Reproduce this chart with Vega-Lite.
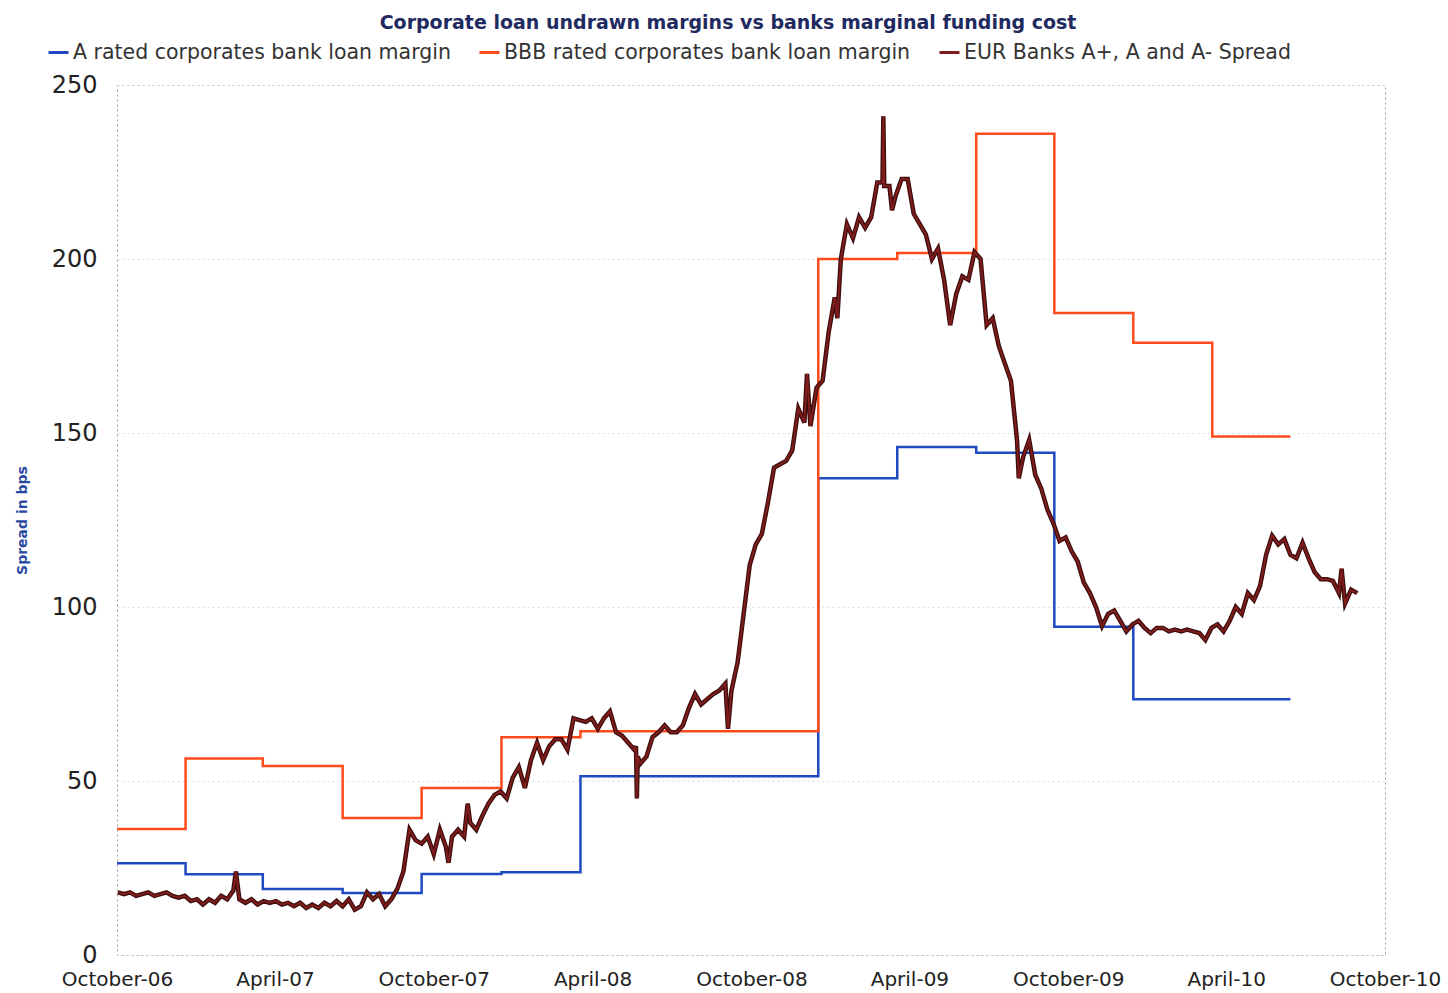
{
  "$schema": "https://vega.github.io/schema/vega-lite/v6.json",
  "width": 1268,
  "height": 870,
  "autosize": {"type": "none"},
  "padding": {"left": 117, "top": 85, "right": 63, "bottom": 38},
  "background": "white",
  "config": {
    "view": {"stroke": "#9a9a9a", "strokeDash": [2, 3], "strokeWidth": 1},
    "font": "DejaVu Sans"
  },
  "title": {
    "text": "Corporate loan undrawn margins vs banks marginal funding cost",
    "fontSize": 19,
    "fontWeight": "bold",
    "color": "#1f2a60",
    "anchor": "middle",
    "dx": -23,
    "offset": 8
  },
  "datasets": {
    "steps": [
      {"date": "2006-10-01", "series": "A rated corporates bank loan margin", "value": 26.4},
      {"date": "2006-12-19", "series": "A rated corporates bank loan margin", "value": 23.2},
      {"date": "2007-03-18", "series": "A rated corporates bank loan margin", "value": 19},
      {"date": "2007-06-18", "series": "A rated corporates bank loan margin", "value": 17.8},
      {"date": "2007-09-17", "series": "A rated corporates bank loan margin", "value": 23.3},
      {"date": "2007-12-18", "series": "A rated corporates bank loan margin", "value": 23.8},
      {"date": "2008-03-18", "series": "A rated corporates bank loan margin", "value": 51.4},
      {"date": "2008-12-17", "series": "A rated corporates bank loan margin", "value": 137},
      {"date": "2009-03-18", "series": "A rated corporates bank loan margin", "value": 146},
      {"date": "2009-06-17", "series": "A rated corporates bank loan margin", "value": 144.3},
      {"date": "2009-09-15", "series": "A rated corporates bank loan margin", "value": 94.3},
      {"date": "2009-12-15", "series": "A rated corporates bank loan margin", "value": 73.5},
      {"date": "2010-06-14", "series": "A rated corporates bank loan margin", "value": 73.5},
      {"date": "2006-10-01", "series": "BBB rated corporates bank loan margin", "value": 36.2},
      {"date": "2006-12-19", "series": "BBB rated corporates bank loan margin", "value": 56.5},
      {"date": "2007-03-18", "series": "BBB rated corporates bank loan margin", "value": 54.3},
      {"date": "2007-06-18", "series": "BBB rated corporates bank loan margin", "value": 39.4},
      {"date": "2007-09-17", "series": "BBB rated corporates bank loan margin", "value": 48},
      {"date": "2007-12-18", "series": "BBB rated corporates bank loan margin", "value": 62.6},
      {"date": "2008-03-18", "series": "BBB rated corporates bank loan margin", "value": 64.3},
      {"date": "2008-12-17", "series": "BBB rated corporates bank loan margin", "value": 200},
      {"date": "2009-03-18", "series": "BBB rated corporates bank loan margin", "value": 201.7},
      {"date": "2009-06-17", "series": "BBB rated corporates bank loan margin", "value": 236},
      {"date": "2009-09-15", "series": "BBB rated corporates bank loan margin", "value": 184.5},
      {"date": "2009-12-15", "series": "BBB rated corporates bank loan margin", "value": 175.9},
      {"date": "2010-03-16", "series": "BBB rated corporates bank loan margin", "value": 149},
      {"date": "2010-06-14", "series": "BBB rated corporates bank loan margin", "value": 149}
    ],
    "spread": [
      {"date": "2006-10-02", "value": 18}, {"date": "2006-10-09", "value": 17.5}, {"date": "2006-10-16", "value": 18},
      {"date": "2006-10-23", "value": 17}, {"date": "2006-10-30", "value": 17.5}, {"date": "2006-11-06", "value": 18},
      {"date": "2006-11-13", "value": 17}, {"date": "2006-11-20", "value": 17.5}, {"date": "2006-11-27", "value": 18},
      {"date": "2006-12-04", "value": 17}, {"date": "2006-12-11", "value": 16.5}, {"date": "2006-12-18", "value": 17},
      {"date": "2006-12-25", "value": 15.5}, {"date": "2007-01-01", "value": 16}, {"date": "2007-01-08", "value": 14.5},
      {"date": "2007-01-15", "value": 16}, {"date": "2007-01-22", "value": 15}, {"date": "2007-01-29", "value": 17},
      {"date": "2007-02-05", "value": 16}, {"date": "2007-02-12", "value": 18.5}, {"date": "2007-02-15", "value": 24},
      {"date": "2007-02-19", "value": 16}, {"date": "2007-02-26", "value": 15}, {"date": "2007-03-05", "value": 16},
      {"date": "2007-03-12", "value": 14.5}, {"date": "2007-03-19", "value": 15.5}, {"date": "2007-03-26", "value": 15},
      {"date": "2007-04-02", "value": 15.5}, {"date": "2007-04-09", "value": 14.5}, {"date": "2007-04-16", "value": 15},
      {"date": "2007-04-23", "value": 14}, {"date": "2007-04-30", "value": 15}, {"date": "2007-05-07", "value": 13.5},
      {"date": "2007-05-14", "value": 14.5}, {"date": "2007-05-21", "value": 13.5}, {"date": "2007-05-28", "value": 15},
      {"date": "2007-06-04", "value": 14}, {"date": "2007-06-11", "value": 15.5}, {"date": "2007-06-18", "value": 14},
      {"date": "2007-06-25", "value": 16}, {"date": "2007-07-02", "value": 13}, {"date": "2007-07-09", "value": 14},
      {"date": "2007-07-16", "value": 18}, {"date": "2007-07-23", "value": 16}, {"date": "2007-07-30", "value": 17.5},
      {"date": "2007-08-06", "value": 14}, {"date": "2007-08-13", "value": 16}, {"date": "2007-08-20", "value": 19},
      {"date": "2007-08-27", "value": 24}, {"date": "2007-09-03", "value": 36}, {"date": "2007-09-10", "value": 33},
      {"date": "2007-09-17", "value": 32}, {"date": "2007-09-24", "value": 34}, {"date": "2007-10-01", "value": 29},
      {"date": "2007-10-08", "value": 36}, {"date": "2007-10-15", "value": 31}, {"date": "2007-10-18", "value": 26.5},
      {"date": "2007-10-22", "value": 34}, {"date": "2007-10-29", "value": 36}, {"date": "2007-11-05", "value": 34},
      {"date": "2007-11-09", "value": 43.5}, {"date": "2007-11-12", "value": 38}, {"date": "2007-11-19", "value": 36},
      {"date": "2007-11-26", "value": 40}, {"date": "2007-12-03", "value": 43.5}, {"date": "2007-12-10", "value": 46},
      {"date": "2007-12-17", "value": 47}, {"date": "2007-12-24", "value": 45}, {"date": "2007-12-31", "value": 51},
      {"date": "2008-01-07", "value": 54}, {"date": "2008-01-14", "value": 48}, {"date": "2008-01-21", "value": 56},
      {"date": "2008-01-28", "value": 61}, {"date": "2008-02-04", "value": 56}, {"date": "2008-02-11", "value": 60},
      {"date": "2008-02-18", "value": 62}, {"date": "2008-02-25", "value": 62}, {"date": "2008-03-03", "value": 59},
      {"date": "2008-03-10", "value": 68}, {"date": "2008-03-17", "value": 67.5}, {"date": "2008-03-24", "value": 67},
      {"date": "2008-03-31", "value": 68}, {"date": "2008-04-07", "value": 65}, {"date": "2008-04-14", "value": 68},
      {"date": "2008-04-21", "value": 70}, {"date": "2008-04-28", "value": 64}, {"date": "2008-05-05", "value": 63},
      {"date": "2008-05-12", "value": 61}, {"date": "2008-05-19", "value": 59}, {"date": "2008-05-21", "value": 60},
      {"date": "2008-05-22", "value": 45}, {"date": "2008-05-23", "value": 57}, {"date": "2008-05-26", "value": 55},
      {"date": "2008-06-02", "value": 57}, {"date": "2008-06-09", "value": 62.6}, {"date": "2008-06-16", "value": 64},
      {"date": "2008-06-23", "value": 66}, {"date": "2008-06-30", "value": 64}, {"date": "2008-07-07", "value": 64},
      {"date": "2008-07-14", "value": 66}, {"date": "2008-07-21", "value": 71}, {"date": "2008-07-28", "value": 75},
      {"date": "2008-08-04", "value": 72}, {"date": "2008-08-11", "value": 73.5}, {"date": "2008-08-18", "value": 75},
      {"date": "2008-08-25", "value": 76}, {"date": "2008-09-01", "value": 78}, {"date": "2008-09-04", "value": 65},
      {"date": "2008-09-08", "value": 76}, {"date": "2008-09-15", "value": 84}, {"date": "2008-09-22", "value": 98},
      {"date": "2008-09-29", "value": 112}, {"date": "2008-10-06", "value": 118}, {"date": "2008-10-13", "value": 121},
      {"date": "2008-10-20", "value": 130}, {"date": "2008-10-27", "value": 140}, {"date": "2008-11-03", "value": 141},
      {"date": "2008-11-10", "value": 142}, {"date": "2008-11-17", "value": 145}, {"date": "2008-11-24", "value": 157},
      {"date": "2008-12-01", "value": 153}, {"date": "2008-12-04", "value": 167}, {"date": "2008-12-08", "value": 152},
      {"date": "2008-12-15", "value": 163}, {"date": "2008-12-22", "value": 165}, {"date": "2008-12-29", "value": 179},
      {"date": "2009-01-05", "value": 189}, {"date": "2009-01-08", "value": 183}, {"date": "2009-01-12", "value": 200},
      {"date": "2009-01-19", "value": 210}, {"date": "2009-01-26", "value": 206}, {"date": "2009-02-02", "value": 212},
      {"date": "2009-02-09", "value": 209}, {"date": "2009-02-16", "value": 212}, {"date": "2009-02-23", "value": 222},
      {"date": "2009-03-01", "value": 222}, {"date": "2009-03-02", "value": 241}, {"date": "2009-03-03", "value": 221},
      {"date": "2009-03-09", "value": 221}, {"date": "2009-03-12", "value": 214}, {"date": "2009-03-16", "value": 218},
      {"date": "2009-03-23", "value": 223}, {"date": "2009-03-30", "value": 223}, {"date": "2009-04-06", "value": 213},
      {"date": "2009-04-13", "value": 210}, {"date": "2009-04-20", "value": 207}, {"date": "2009-04-27", "value": 200},
      {"date": "2009-05-04", "value": 203}, {"date": "2009-05-11", "value": 194}, {"date": "2009-05-18", "value": 181},
      {"date": "2009-05-25", "value": 190}, {"date": "2009-06-01", "value": 195}, {"date": "2009-06-08", "value": 194},
      {"date": "2009-06-15", "value": 202}, {"date": "2009-06-22", "value": 200}, {"date": "2009-06-29", "value": 181},
      {"date": "2009-07-06", "value": 183}, {"date": "2009-07-13", "value": 175}, {"date": "2009-07-20", "value": 170},
      {"date": "2009-07-27", "value": 165}, {"date": "2009-08-03", "value": 148}, {"date": "2009-08-05", "value": 137},
      {"date": "2009-08-10", "value": 143}, {"date": "2009-08-17", "value": 148}, {"date": "2009-08-24", "value": 138},
      {"date": "2009-08-31", "value": 134}, {"date": "2009-09-07", "value": 128}, {"date": "2009-09-14", "value": 124},
      {"date": "2009-09-21", "value": 119}, {"date": "2009-09-28", "value": 120}, {"date": "2009-10-05", "value": 116},
      {"date": "2009-10-12", "value": 113}, {"date": "2009-10-19", "value": 107}, {"date": "2009-10-26", "value": 104},
      {"date": "2009-11-02", "value": 100}, {"date": "2009-11-09", "value": 94.5}, {"date": "2009-11-16", "value": 98},
      {"date": "2009-11-23", "value": 99}, {"date": "2009-11-30", "value": 96}, {"date": "2009-12-07", "value": 93},
      {"date": "2009-12-14", "value": 95}, {"date": "2009-12-21", "value": 96}, {"date": "2009-12-28", "value": 94},
      {"date": "2010-01-04", "value": 92.5}, {"date": "2010-01-11", "value": 94}, {"date": "2010-01-18", "value": 94},
      {"date": "2010-01-25", "value": 93}, {"date": "2010-02-01", "value": 93.5}, {"date": "2010-02-08", "value": 93},
      {"date": "2010-02-15", "value": 93.5}, {"date": "2010-02-22", "value": 93}, {"date": "2010-03-01", "value": 92.5},
      {"date": "2010-03-08", "value": 90.5}, {"date": "2010-03-15", "value": 94}, {"date": "2010-03-22", "value": 95},
      {"date": "2010-03-29", "value": 93}, {"date": "2010-04-05", "value": 96}, {"date": "2010-04-12", "value": 100},
      {"date": "2010-04-19", "value": 98}, {"date": "2010-04-26", "value": 104}, {"date": "2010-05-03", "value": 102},
      {"date": "2010-05-10", "value": 106}, {"date": "2010-05-17", "value": 115}, {"date": "2010-05-24", "value": 120.5},
      {"date": "2010-05-31", "value": 118}, {"date": "2010-06-07", "value": 119.5}, {"date": "2010-06-14", "value": 115},
      {"date": "2010-06-21", "value": 114}, {"date": "2010-06-28", "value": 118.5}, {"date": "2010-07-05", "value": 114},
      {"date": "2010-07-12", "value": 110}, {"date": "2010-07-19", "value": 108}, {"date": "2010-07-26", "value": 108},
      {"date": "2010-08-02", "value": 107.5}, {"date": "2010-08-09", "value": 104}, {"date": "2010-08-12", "value": 111},
      {"date": "2010-08-16", "value": 101}, {"date": "2010-08-23", "value": 105}, {"date": "2010-08-30", "value": 104}
    ]
  },
  "layer": [
    {
      "data": {"name": "steps"},
      "mark": {"type": "line", "interpolate": "step-after", "strokeWidth": 2.5},
      "encoding": {
        "x": {
          "field": "date", "type": "temporal",
          "scale": {"type": "utc", "domain": [{"year": 2006, "month": 10, "date": 1, "utc": true}, {"year": 2010, "month": 10, "date": 1, "utc": true}]},
          "axis": {
            "title": null,
            "values": [
              {"year": 2006, "month": 10, "date": 1, "utc": true},
              {"year": 2007, "month": 4, "date": 1, "utc": true},
              {"year": 2007, "month": 10, "date": 1, "utc": true},
              {"year": 2008, "month": 4, "date": 1, "utc": true},
              {"year": 2008, "month": 10, "date": 1, "utc": true},
              {"year": 2009, "month": 4, "date": 1, "utc": true},
              {"year": 2009, "month": 10, "date": 1, "utc": true},
              {"year": 2010, "month": 4, "date": 1, "utc": true},
              {"year": 2010, "month": 10, "date": 1, "utc": true}
            ],
            "format": "%B-%y",
            "labelFontSize": 20,
            "labelColor": "#222222",
            "labelPadding": 14,
            "labelFlush": false,
            "labelOverlap": false,
            "ticks": false,
            "domain": false,
            "grid": false
          }
        },
        "y": {
          "field": "value", "type": "quantitative",
          "scale": {"domain": [0, 250], "nice": false},
          "axis": {
            "title": "Spread in bps",
            "values": [0, 50, 100, 150, 200, 250],
            "labelFontSize": 24,
            "labelColor": "#222222",
            "labelPadding": 20,
            "ticks": false,
            "domain": false,
            "grid": true,
            "gridColor": "#dcdcdc",
            "gridDash": [2, 3],
            "titleFontSize": 14,
            "titleFontWeight": "bold",
            "titleColor": "#2a4aa0",
            "titlePadding": 22
          }
        },
        "color": {
          "field": "series", "type": "nominal",
          "scale": {
            "domain": ["A rated corporates bank loan margin", "BBB rated corporates bank loan margin", "EUR Banks A+, A and A- Spread"],
            "range": ["#1f49c0", "#ff4a1c", "#7f1c1c"]
          },
          "legend": {
            "orient": "none",
            "legendX": -70,
            "legendY": -44,
            "direction": "horizontal",
            "title": null,
            "symbolType": "stroke",
            "symbolSize": 400,
            "symbolStrokeWidth": 3,
            "labelFontSize": 20.5,
            "labelLimit": 0,
            "labelColor": "#333333",
            "columnPadding": 22,
            "labelOffset": 3
          }
        }
      }
    },
    {
      "data": {"name": "spread"},
      "mark": {"type": "line", "strokeWidth": 4.5, "color": "#3e0e0e"},
      "encoding": {
        "x": {"field": "date", "type": "temporal"},
        "y": {"field": "value", "type": "quantitative"}
      }
    },
    {
      "data": {"name": "spread"},
      "transform": [{"calculate": "'EUR Banks A+, A and A- Spread'", "as": "series"}],
      "mark": {"type": "line", "strokeWidth": 2},
      "encoding": {
        "x": {"field": "date", "type": "temporal"},
        "y": {"field": "value", "type": "quantitative"},
        "color": {"field": "series", "type": "nominal", "scale": {"range": ["#1f49c0", "#ff4a1c", "#9a2a2a"]}}
      }
    }
  ]
}
